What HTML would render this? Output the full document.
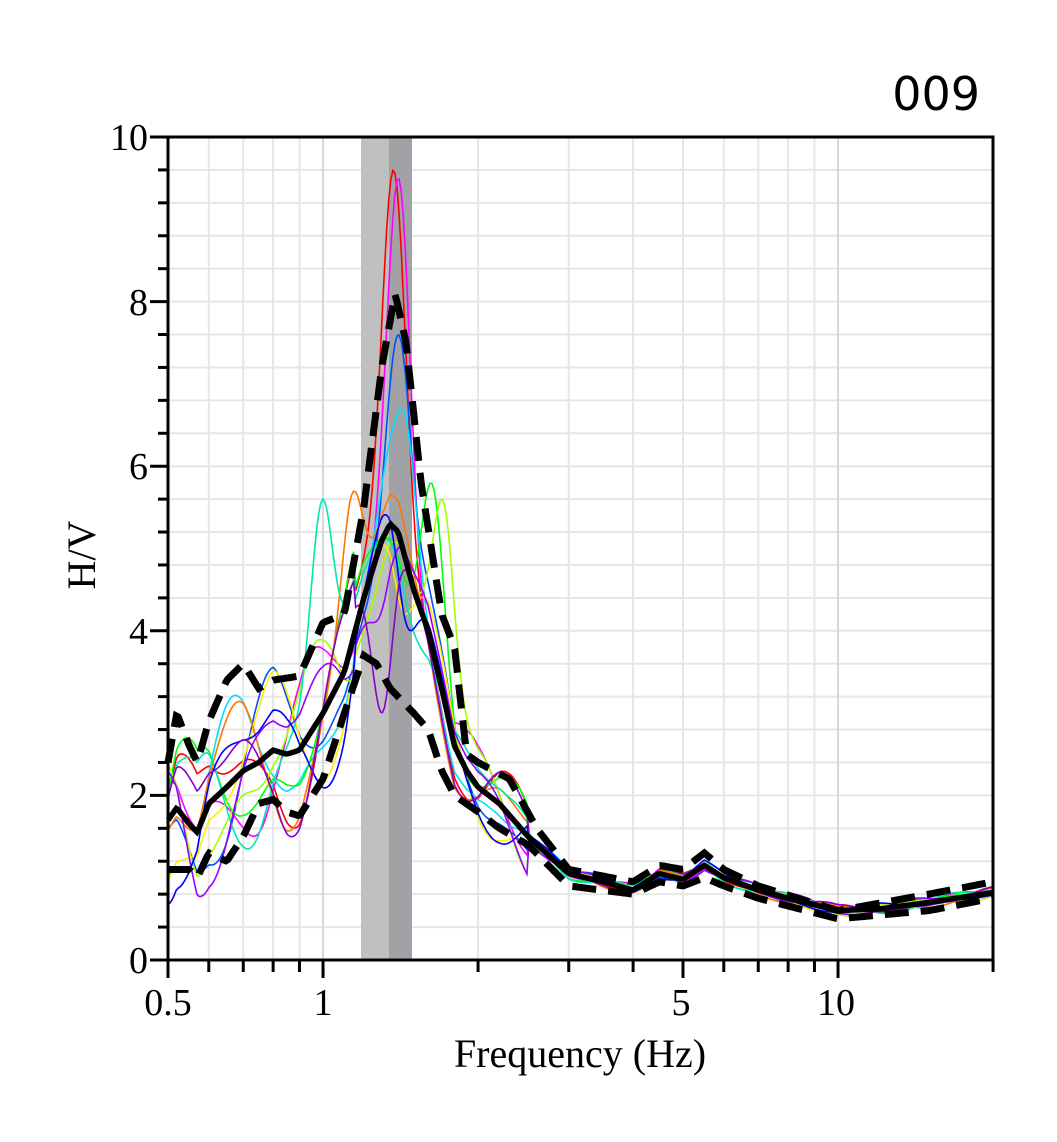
<!DOCTYPE html>
<html><head><meta charset="utf-8"><style>
html,body{margin:0;padding:0;background:#fff;width:1057px;height:1142px;overflow:hidden}
svg{display:block}
</style></head><body>
<svg id="s" width="1057" height="1142" xmlns="http://www.w3.org/2000/svg">
<rect width="1057" height="1142" fill="#fff"/>
<g id="grid"></g>
<rect x="361" y="137" width="28" height="823" fill="#c0c0c0"/>
<rect x="389" y="137" width="23" height="823" fill="#a2a2a6"/>
<g id="cur" fill="none"></g>
<rect x="168" y="137" width="825" height="823" fill="none" stroke="#000" stroke-width="3"/>
<g id="ticks" stroke="#000" stroke-width="3"></g>
<g font-family="Liberation Serif, serif" font-size="38" fill="#000">
<text x="148" y="973" text-anchor="end">0</text>
<text x="148" y="808" text-anchor="end">2</text>
<text x="148" y="644" text-anchor="end">4</text>
<text x="148" y="479" text-anchor="end">6</text>
<text x="148" y="315" text-anchor="end">8</text>
<text x="148" y="150" text-anchor="end">10</text>
<text x="168" y="1015" text-anchor="middle">0.5</text>
<text x="323" y="1015" text-anchor="middle">1</text>
<text x="681" y="1015" text-anchor="middle">5</text>
<text x="836" y="1015" text-anchor="middle">10</text>
<text x="580" y="1067" text-anchor="middle" font-size="40">Frequency (Hz)</text>
<text transform="translate(95,555) rotate(-90)" text-anchor="middle" font-size="40">H/V</text>
</g>
<text x="980" y="110" text-anchor="end" font-family="DejaVu Sans, sans-serif" font-size="46">009</text>
</svg>
<script>
const NS="http://www.w3.org/2000/svg";
const X=f=>168+515*Math.log10(f/0.5), Y=v=>960-82.3*v;
function el(p,t,a){const e=document.createElementNS(NS,t);for(const k in a)e.setAttribute(k,a[k]);p.appendChild(e);return e;}
const g=document.getElementById('grid'),tk=document.getElementById('ticks');
for(let v=0.4;v<10;v+=0.4)el(g,'line',{x1:168,x2:993,y1:Y(v),y2:Y(v),stroke:'#e6e6e6','stroke-width':2});
const fs=[0.6,0.7,0.8,0.9,1,2,3,4,5,6,7,8,9,10,20];
fs.forEach(f=>el(g,'line',{x1:X(f),x2:X(f),y1:137,y2:960,stroke:f==1||f==10?'#d8d8d8':'#e6e6e6','stroke-width':2}));
for(let v=0;v<=10.01;v+=0.4){const maj=Math.abs(v/2-Math.round(v/2))<0.01;el(tk,'line',{x1:maj?150:158,x2:168,y1:Y(v),y2:Y(v)});}
[0.5,0.6,0.7,0.8,0.9,1,2,3,4,5,6,7,8,9,10,20].forEach(f=>{const maj=[0.5,1,5,10].includes(f);el(tk,'line',{x1:X(f),x2:X(f),y1:960,y2:maj?978:972});});
function interp(pts,f){for(let i=0;i<pts.length-1;i++){if(f<=pts[i+1][0]){const t=(Math.log(f)-Math.log(pts[i][0]))/(Math.log(pts[i+1][0])-Math.log(pts[i][0]));return pts[i][1]+t*(pts[i+1][1]-pts[i][1]);}}return pts[pts.length-1][1];}
const mean=[[0.5,1.7],[0.52,1.85],[0.55,1.65],[0.57,1.55],[0.6,1.9],[0.65,2.1],[0.7,2.3],[0.75,2.4],[0.8,2.55],[0.85,2.5],[0.9,2.55],[1.0,3.0],[1.1,3.5],[1.2,4.4],[1.3,5.1],[1.35,5.3],[1.4,5.2],[1.5,4.5],[1.6,4.0],[1.7,3.3],[1.8,2.6],[1.9,2.3],[2.0,2.1],[2.2,1.9],[2.5,1.5],[3,1.05],[3.5,0.95],[4,0.85],[4.5,1.05],[5,0.98],[5.5,1.15],[6,1.0],[7,0.85],[8,0.75],[10,0.6],[12,0.62],[15,0.7],[20,0.82]];
const up=[[0.5,2.4],[0.52,3.0],[0.55,2.6],[0.57,2.4],[0.6,2.9],[0.65,3.4],[0.7,3.6],[0.75,3.3],[0.8,3.4],[0.9,3.45],[1.0,4.1],[1.1,4.2],[1.2,5.5],[1.3,7.2],[1.38,8.1],[1.45,7.5],[1.55,5.8],[1.7,4.2],[1.8,3.8],[1.9,2.5],[2.0,2.4],[2.3,2.2],[2.6,1.6],[3,1.1],[4,0.95],[4.5,1.15],[5,1.1],[5.5,1.3],[6,1.1],[7,0.9],[10,0.6],[15,0.8],[20,0.95]];
const lo=[[0.5,1.1],[0.55,1.1],[0.57,1.0],[0.6,1.3],[0.65,1.2],[0.7,1.5],[0.75,1.9],[0.8,1.95],[0.85,1.8],[0.9,1.75],[1.0,2.2],[1.1,3.0],[1.2,3.7],[1.27,3.6],[1.35,3.3],[1.5,3.0],[1.6,2.8],[1.7,2.3],[1.8,2.0],[2.0,1.8],[2.2,1.6],[2.5,1.4],[3,0.9],[4,0.8],[4.5,0.95],[5,0.9],[5.5,1.0],[6,0.9],[7,0.75],[10,0.5],[15,0.6],[20,0.75]];
function path(fn){let d='';for(let i=0;i<=400;i++){const f=0.5*Math.pow(40,i/400);d+=(i?'L':'M')+X(f).toFixed(1)+','+Y(fn(f)).toFixed(1);}return d;}
const c=document.getElementById('cur');
const cols=[['#ff0000',9.6,1.37],['#ff00ff',9.5,1.4],['#0050ff',7.6,1.4],['#00e0ff',6.7,1.42],['#00ff00',5.8,1.62],['#a0ff00',5.6,1.7],['#ffee00',4.2,1.45],['#ff7700',5.7,1.15],['#00e8b0',5.6,1.0],['#9900ff',4.1,1.25],['#0000ff',4.0,1.48],['#8800cc',3.0,1.3]];
cols.forEach((cc,k)=>{
 const [col,pk,pf]=cc;
 const fn=f=>{let b=interp(mean,f);const lf=Math.log(f/pf);
  const w=Math.exp(-lf*lf/0.005);
  const amp=f<2.5?0.7:0.1;
  const n=amp*(Math.sin(9*Math.log(f)+k*1.7)+0.5*Math.sin(17*Math.log(f)+k*2.9))*(f<1.15?1:0.5);
  return Math.max(0.5,(b+n)*(1-w)+pk*w);};
 el(c,'path',{d:path(fn),stroke:col,'stroke-width':1.6});
});
el(c,'path',{d:path(f=>interp(up,f)),stroke:'#000','stroke-width':7,'stroke-dasharray':'24,12'});
el(c,'path',{d:path(f=>interp(lo,f)),stroke:'#000','stroke-width':7,'stroke-dasharray':'24,12'});
el(c,'path',{d:path(f=>interp(mean,f)),stroke:'#000','stroke-width':5.5});
</script>
</body></html>
